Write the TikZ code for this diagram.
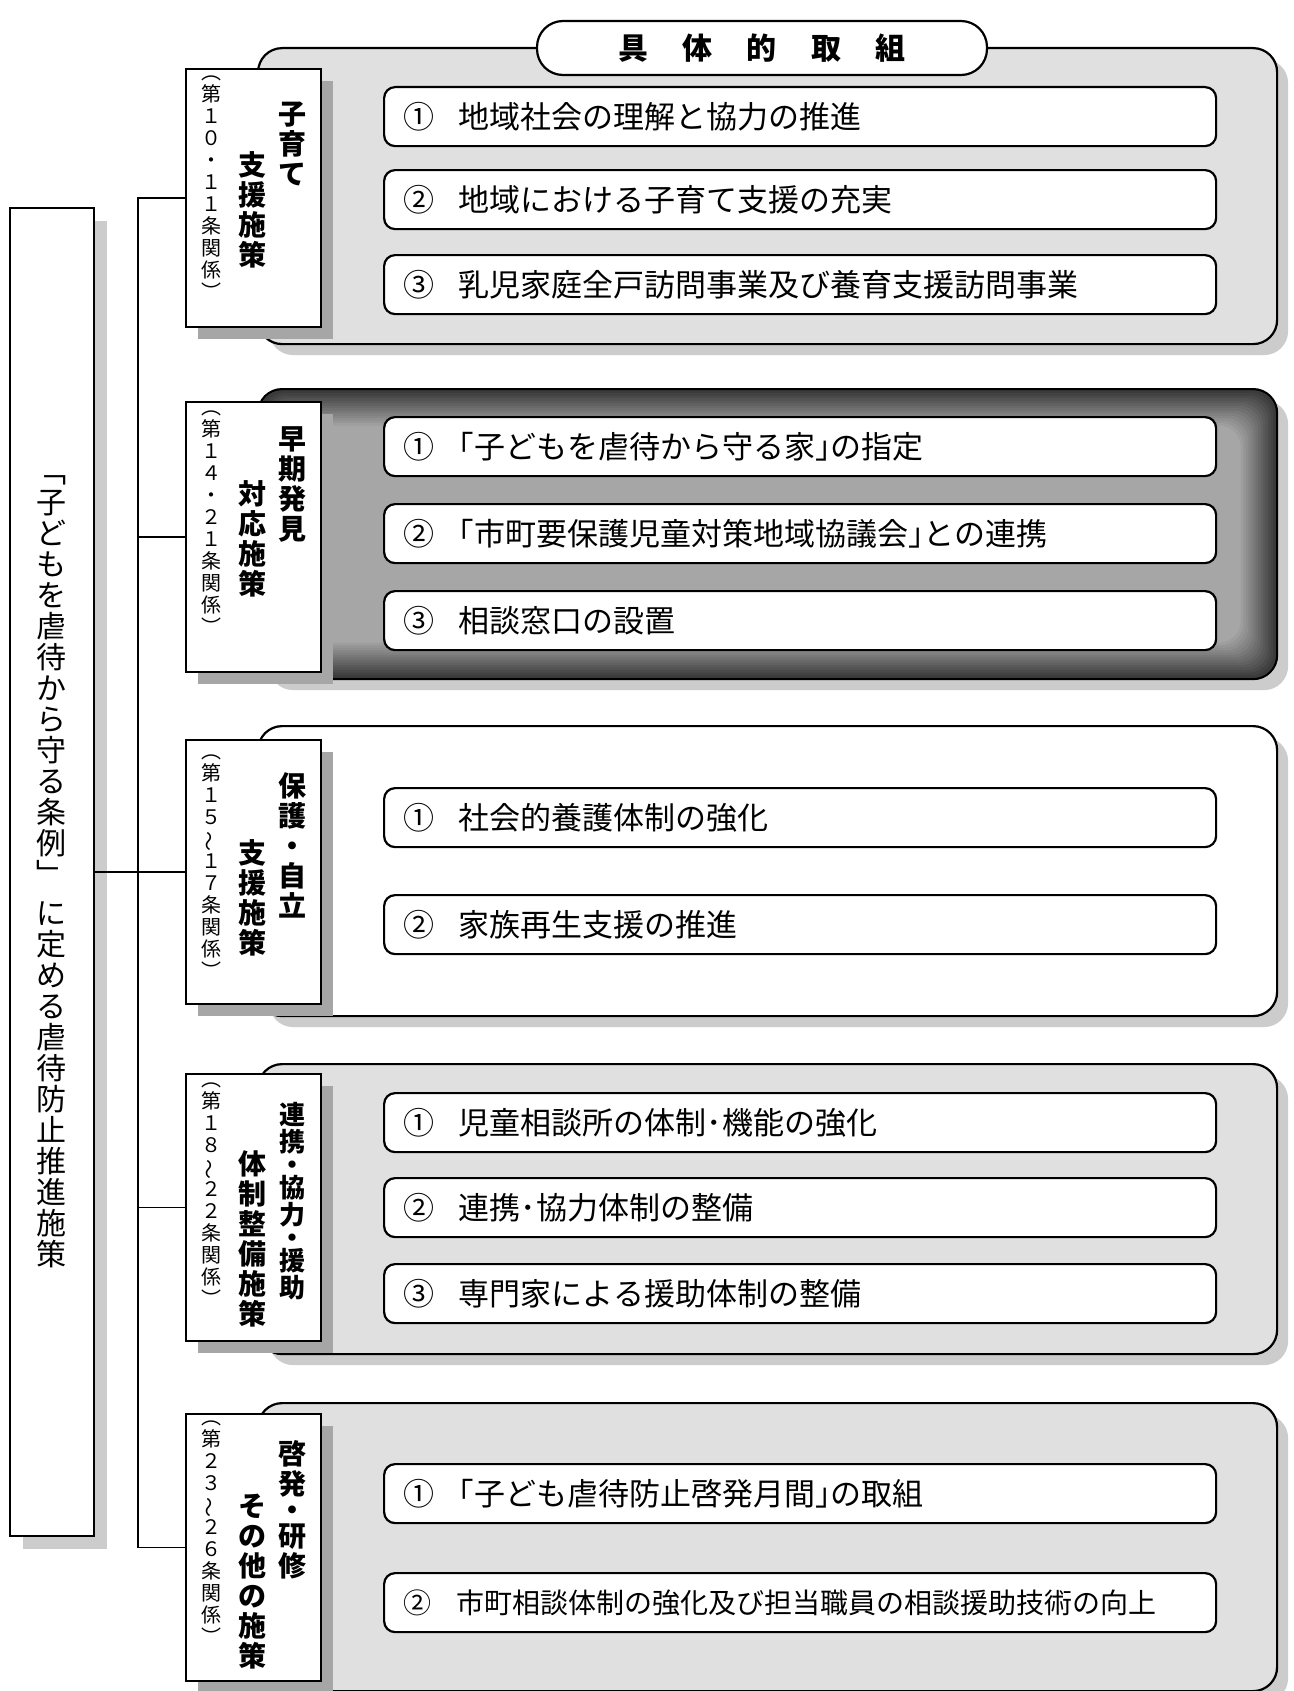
\documentclass[tikz,border=0pt]{standalone}
\usepackage{graphicx}
\usepackage{fontspec}
\setmainfont{Noto Sans CJK JP}
\usetikzlibrary{%
	positioning,
	calc,
	shadows
}

\begin{document}
\begin{tikzpicture}[x=1pt,y=-1pt,
		SGroup/.style={draw,line width=2.2pt,rounded corners=24pt,anchor=north west,inner sep=0pt,minimum width=1019pt,fill=black!12,drop shadow={shadow xshift=11pt,shadow yshift=-11pt,fill=black!20,opacity=1}},
		SItem/.style={draw,line width=2.2pt,rounded corners=11pt,fill=white,anchor=north west,minimum width=832pt,minimum height=59pt,text width=794pt,inner xsep=19pt,inner ysep=0pt,align=left,font=\fontsize{31pt}{34pt}\selectfont},
		SSect/.style={draw,line width=1.8pt,fill=white,anchor=north west,inner sep=0pt,minimum width=135pt,drop shadow={shadow xshift=12pt,shadow yshift=-12pt,fill=black!35,opacity=1}},
		SMain/.style={draw,line width=1.8pt,fill=white,anchor=north west,inner sep=0pt,minimum width=84pt,minimum height=1328pt,align=center,font=\fontsize{30pt}{31pt}\selectfont,drop shadow={shadow xshift=13pt,shadow yshift=-13pt,fill=black!20,opacity=1}},
		STitle/.style={draw,line width=2.2pt,fill=white,rounded corners=26pt,minimum width=450pt,minimum height=54pt,inner sep=0pt,font=\fontsize{30pt}{32pt}\selectfont\bfseries},
		SVbold/.style={anchor=north,align=center,inner sep=0pt,font=\fontsize{28pt}{30pt}\selectfont\bfseries},
		SVsmall/.style={anchor=north,align=center,inner sep=0pt,font=\fontsize{20pt}{22pt}\selectfont},
		conn/.style={line width=1.6pt}
	]
	\useasboundingbox [fill=white] (0,0) rectangle (1293,1691);
	
	%groups
	\node (grp1) [SGroup, minimum height=296pt] at (257,47) {};
	\node (grp2) [SGroup, minimum height=290pt, fill=black!80] at (257,388) {};
	\foreach \k in {1,...,15}{
		\pgfmathtruncatemacro{\tone}{80-3*\k}
		\fill [black!\tone, rounded corners=22pt] ($(grp2.north west)+(2.5*\k,2.5*\k)$) rectangle ($(grp2.south east)-(2.5*\k,2.5*\k)$);
	}
	\node (grp3) [SGroup, minimum height=290pt, fill=white] at (257,725) {};
	\node (grp4) [SGroup, minimum height=290pt] at (257,1063) {};
	\node (grp5) [SGroup, minimum height=288pt] at (257,1402) {};
	
	\node (title) [STitle] at (762,48) {具\hspace{1.15em}体\hspace{1.15em}的\hspace{1.15em}取\hspace{1.15em}組};
	
	%main
	\node (main) [SMain] at (9,207) {﹁\\子\\ど\\も\\を\\虐\\待\\か\\ら\\守\\る\\条\\例\\﹂\\[8pt]に\\定\\め\\る\\虐\\待\\防\\止\\推\\進\\施\\策};
	
	%sections
	\node (sect1) [SSect, minimum height=258pt] at (185,68) {};
	\node (sect2) [SSect, minimum height=270pt] at (185,401) {};
	\node (sect3) [SSect, minimum height=264pt] at (185,739) {};
	\node (sect4) [SSect, minimum height=267pt] at (185,1073) {};
	\node (sect5) [SSect, minimum height=267pt] at (185,1413) {};
	
	\draw [conn] (sect1.west) -- ++(-47,0) |- (sect5.west);
	\draw [conn] (sect2.west) -- ++(-47,0);
	\draw [conn] (sect4.west) -- ++(-47,0);
	\draw [conn] (main.east |- sect3.west) -- (sect3.west);
	
	%子育て
	\node (s1r) [SVbold] at ($(sect1.north west)+(107,34)$) {子\\育\\て};
	\node (s1m) [SVbold] at ($(sect1.north west)+(67,83)$) {支\\援\\施\\策};
	\node (s1l) [SVsmall] at ($(sect1.north west)+(26,8)$) {︵\\第\\１\\０\\・\\１\\１\\条\\関\\係\\︶};
	\node (i11) [SItem] at (383,86) {①\hspace{.8em}地域社会の理解と協力の推進};
	\node (i12) [SItem] at (383,169) {②\hspace{.8em}地域における子育て支援の充実};
	\node (i13) [SItem] at (383,254) {③\hspace{.8em}乳児家庭全戸訪問事業及び養育支援訪問事業};
	
	%早期発見
	\node (s2r) [SVbold] at ($(sect2.north west)+(107,25)$) {早\\期\\発\\見};
	\node (s2m) [SVbold] at ($(sect2.north west)+(67,79)$) {対\\応\\施\\策};
	\node (s2l) [SVsmall] at ($(sect2.north west)+(26,10)$) {︵\\第\\１\\４\\・\\２\\１\\条\\関\\係\\︶};
	\node (i21) [SItem] at (383,416) {①\hspace{.8em}｢子どもを虐待から守る家｣の指定};
	\node (i22) [SItem] at (383,503) {②\hspace{.8em}｢市町要保護児童対策地域協議会｣との連携};
	\node (i23) [SItem] at (383,590) {③\hspace{.8em}相談窓口の設置};
	
	%保護・自立
	\node (s3r) [SVbold] at ($(sect3.north west)+(107,33)$) {保\\護\\・\\自\\立};
	\node (s3m) [SVbold] at ($(sect3.north west)+(67,100)$) {支\\援\\施\\策};
	\node (s3l) [SVsmall] at ($(sect3.north west)+(26,16)$) {︵\\第\\１\\５\\\rotatebox[origin=c]{90}{～}\\１\\７\\条\\関\\係\\︶};
	\node (i31) [SItem] at (383,787) {①\hspace{.8em}社会的養護体制の強化};
	\node (i32) [SItem] at (383,894) {②\hspace{.8em}家族再生支援の推進};
	
	%連携・協力・援助
	\node (s4r) [SVbold, font=\fontsize{26pt}{27pt}\selectfont\bfseries] at ($(sect4.north west)+(107,29)$) {連\\携\\[-4pt]・\\[-4pt]協\\力\\[-4pt]・\\[-4pt]援\\助};
	\node (s4m) [SVbold] at ($(sect4.north west)+(67,77)$) {体\\制\\整\\備\\施\\策};
	\node (s4l) [SVsmall] at ($(sect4.north west)+(26,10)$) {︵\\第\\１\\８\\\rotatebox[origin=c]{90}{～}\\２\\２\\条\\関\\係\\︶};
	\node (i41) [SItem] at (383,1092) {①\hspace{.8em}児童相談所の体制･機能の強化};
	\node (i42) [SItem] at (383,1177) {②\hspace{.8em}連携･協力体制の整備};
	\node (i43) [SItem] at (383,1263) {③\hspace{.8em}専門家による援助体制の整備};
	
	%啓発・研修
	\node (s5r) [SVbold] at ($(sect5.north west)+(107,27)$) {啓\\発\\[-4pt]・\\[-4pt]研\\修};
	\node (s5m) [SVbold] at ($(sect5.north west)+(67,81)$) {そ\\の\\他\\の\\施\\策};
	\node (s5l) [SVsmall] at ($(sect5.north west)+(26,8)$) {︵\\第\\２\\３\\\rotatebox[origin=c]{90}{～}\\２\\６\\条\\関\\係\\︶};
	\node (i51) [SItem] at (383,1463) {①\hspace{.8em}｢子ども虐待防止啓発月間｣の取組};
	\node (i52) [SItem, font=\fontsize{28pt}{32pt}\selectfont] at (383,1572) {②\hspace{.9em}市町相談体制の強化及び担当職員の相談援助技術の向上};
	
\end{tikzpicture}
\end{document}
